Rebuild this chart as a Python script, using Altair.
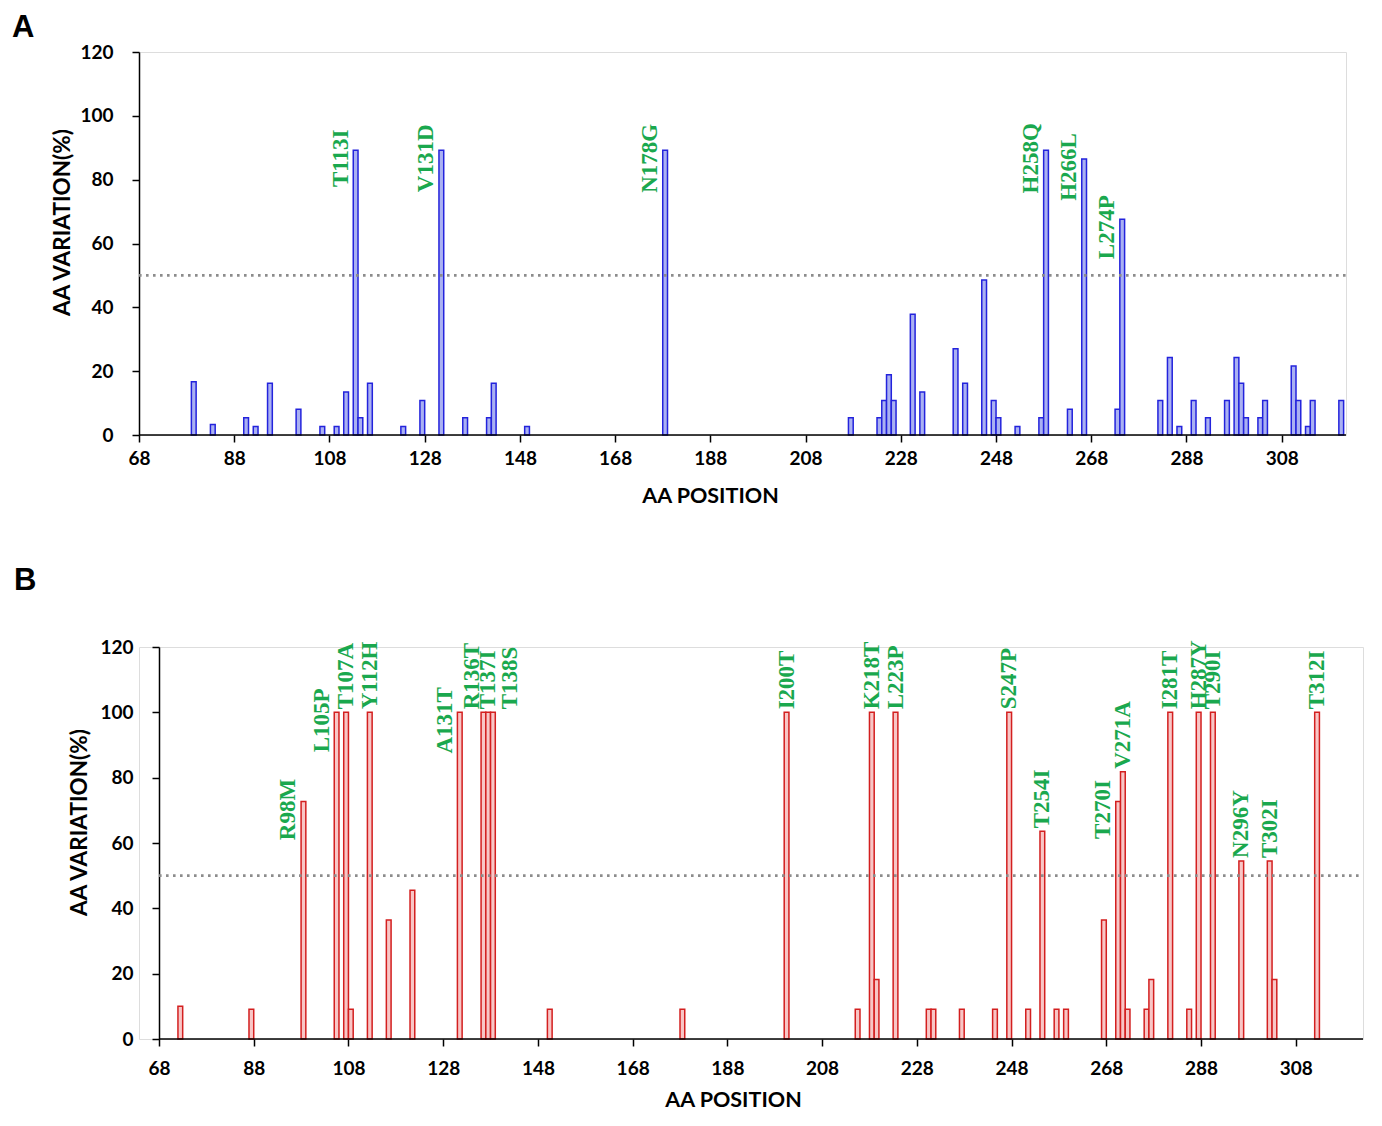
import altair as alt
import pandas as pd

# ---------------- data ----------------
A_POS = [79, 83, 90, 92, 95, 101, 106, 109, 111, 113, 114, 116, 123, 127, 131, 136, 141, 142, 149, 178,
         217, 223, 224, 225, 226, 230, 232, 239, 241, 245, 247, 248, 252, 257, 258, 263, 266, 273, 274, 282,
         284, 286, 289, 292, 296, 298, 299, 300, 303, 304, 310, 311, 313, 314, 320]
A_VAL = [16.7, 3.3, 5.4, 2.7, 16.2, 8.1, 2.7, 2.7, 13.5, 89.2, 5.4, 16.2, 2.7, 10.8, 89.2, 5.4, 5.4, 16.2, 2.7, 89.2,
         5.4, 5.4, 10.8, 18.9, 10.8, 37.8, 13.5, 27.0, 16.2, 48.6, 10.8, 5.4, 2.7, 5.4, 89.2, 8.1, 86.5, 8.1, 67.6, 10.8,
         24.3, 2.7, 10.8, 5.4, 10.8, 24.3, 16.2, 5.4, 5.4, 10.8, 21.6, 10.8, 2.7, 10.8, 10.8]
A_LABELS = ["T113I", "V131D", "N178G", "H258Q", "H266L", "L274P"]

B_POS = [72, 87, 98, 105, 107, 108, 112, 116, 121, 131, 136, 137, 138, 150, 178, 200, 215, 218, 219, 223,
         230, 231, 237, 244, 247, 251, 254, 257, 259, 267, 270, 271, 272, 276, 277, 281, 285, 287, 290, 296,
         302, 303, 312]
B_VAL = [10.0, 9.1, 72.7, 100, 100, 9.1, 100, 36.4, 45.5, 100, 100, 100, 100, 9.1, 9.1, 100, 9.1, 100, 18.2, 100,
         9.1, 9.1, 9.1, 9.1, 100, 9.1, 63.6, 9.1, 9.1, 36.4, 72.7, 81.8, 9.1, 9.1, 18.2, 100, 9.1, 100, 100, 54.5,
         54.5, 18.2, 100]
B_LABELS = ["R98M", "L105P", "T107A", "Y112H", "A131T", "R136T", "T137I", "T138S", "I200T", "K218T", "L223P",
            "S247P", "T254I", "T270I", "V271A", "I281T", "H287Y", "T290I", "N296Y", "T302I", "T312I"]

X_TICKS = [68, 88, 108, 128, 148, 168, 188, 208, 228, 248, 268, 288, 308]
Y_TICKS = [0, 20, 40, 60, 80, 100, 120]
THRESHOLD = [50]

# ---------------- style ----------------
GREEN = "#1aa84e"
SANS = "Lato"
SERIF = "Liberation Serif"
# labels in panel B drawn beside the bar instead of above it, and small sideways nudges (px)
B_BESIDE = ["R98M", "L105P", "A131T", "T270I"]
B_NUDGE_PX = {"R136T": -11, "T138S": 17}


def panel(pos, val, labels, beside_all, beside, nudge, stroke, fill, W, H, dom, inset, letter, letter_x, letter_y,
          xlabpad, ytitle_x, ytitle_y, xtitle_x):
    # inset: pixels between plot-area left edge and the y axis line
    ppu = W / (dom[1] - dom[0])
    full_w = W + inset
    sdom = [dom[0] - inset / ppu, dom[1]]
    df = pd.DataFrame({"pos": pos, "val": val})
    df["x0"] = df["pos"]
    df["x1"] = df["pos"] + 1
    df["zero"] = 0
    xs = alt.Scale(domain=sdom, nice=False, zero=False)
    ys = alt.Scale(domain=[0, 120], nice=False)

    xaxis = alt.Axis(values=X_TICKS, title="AA POSITION", grid=False, domain=False,
                     tickColor="black", tickWidth=1.5, tickSize=7, labelFont=SANS, labelFontSize=19,
                     labelFontWeight="bold", labelColor="black", labelPadding=xlabpad, labelFlush=False,
                     labelOverlap=False, titleFont=SANS, titleFontSize=21.5, titleFontWeight="bold",
                     titleColor="black", titleX=xtitle_x + inset, titleY=67, titleBaseline="alphabetic")
    yaxis = alt.Axis(values=Y_TICKS, title="AA VARIATION(%)", grid=False, domainColor="black", domainWidth=1.5,
                     tickColor="black", tickWidth=1.5, tickSize=7, labelFont=SANS, labelFontSize=19,
                     labelFontWeight="bold", labelColor="black", labelPadding=19, offset=-inset,
                     titleFont=SANS, titleFontSize=22.5, titleFontWeight="bold", titleColor="black",
                     titleX=ytitle_x, titleY=ytitle_y, titleBaseline="middle")

    bars = alt.Chart(df).mark_bar(stroke=stroke, fill=fill, strokeWidth=1.5).encode(
        x=alt.X("x0:Q", scale=xs, axis=xaxis),
        x2="x1:Q",
        y=alt.Y("val:Q", scale=ys, axis=yaxis),
        y2="zero:Q",
    )
    span = pd.DataFrame({"a": [dom[0]], "b": [dom[1]], "zero": [0], "t": THRESHOLD})
    baseline = alt.Chart(span).mark_rule(color="black", strokeWidth=1.5).encode(
        x=alt.X("a:Q", scale=xs), x2="b:Q", y=alt.Y("zero:Q", scale=ys))
    rule = alt.Chart(span).mark_rule(
        color="#8c8c8c", strokeWidth=2.6, strokeDash=[2.6, 4.4]
    ).encode(x=alt.X("a:Q", scale=xs), x2="b:Q", y=alt.Y("t:Q", scale=ys))

    lab = pd.DataFrame({"label": labels})
    lab["pos"] = lab["label"].str[1:-1].astype(int)
    lab = lab.merge(df[["pos", "val"]], on="pos", how="left")
    lab["xc"] = lab["pos"] + 0.5 + lab["label"].map(nudge).fillna(0) / ppu
    if beside_all:
        lab["side"] = True
    else:
        lab["side"] = lab["label"].isin(beside)

    common = dict(angle=270, font=SERIF, fontWeight="bold", fontSize=23, color=GREEN)
    above = alt.Chart(lab[~lab["side"]]).mark_text(align="left", baseline="middle", dx=3, **common).encode(
        x=alt.X("xc:Q", scale=xs), y=alt.Y("val:Q", scale=ys), text="label:N")
    side = alt.Chart(lab[lab["side"]]).mark_text(align="center", baseline="alphabetic", dx=-8, dy=-8,
                                                 **common).encode(
        x=alt.X("xc:Q", scale=xs), y=alt.Y("val:Q", scale=ys), text="label:N")

    let = alt.Chart(pd.DataFrame({"t": [letter]})).mark_text(
        align="left", baseline="top", font="Liberation Sans", fontWeight="bold", fontSize=31, color="black"
    ).encode(text="t:N", x=alt.value(letter_x), y=alt.value(letter_y))

    layers = [bars, baseline, rule]
    if len(lab[~lab["side"]]):
        layers.append(above)
    if len(lab[lab["side"]]):
        layers.append(side)
    layers.append(let)
    return alt.layer(*layers).properties(width=full_w, height=H)


pa = panel(A_POS, A_VAL, A_LABELS, True, [], {}, "#2323dc", "#aab1f2", 1207, 383, [68, 321.5], 0, "A",
           -127, -39, 7, -77, 170, 571)
pb = panel(B_POS, B_VAL, B_LABELS, False, B_BESIDE, B_NUDGE_PX, "#d31f1f", "#f8c6c6", 1204, 392,
           [68, 322.2], 20, "B", -125, -81, 13, -79.5, 175, 574)

chart = alt.concat(pa, pb, columns=1, spacing=57).properties(
    padding={"left": 3, "top": 3, "right": 5, "bottom": 5}
).configure_view(stroke=None).configure(background="white")

chart.save("out.html", embed_options={"renderer": "svg", "actions": False})
